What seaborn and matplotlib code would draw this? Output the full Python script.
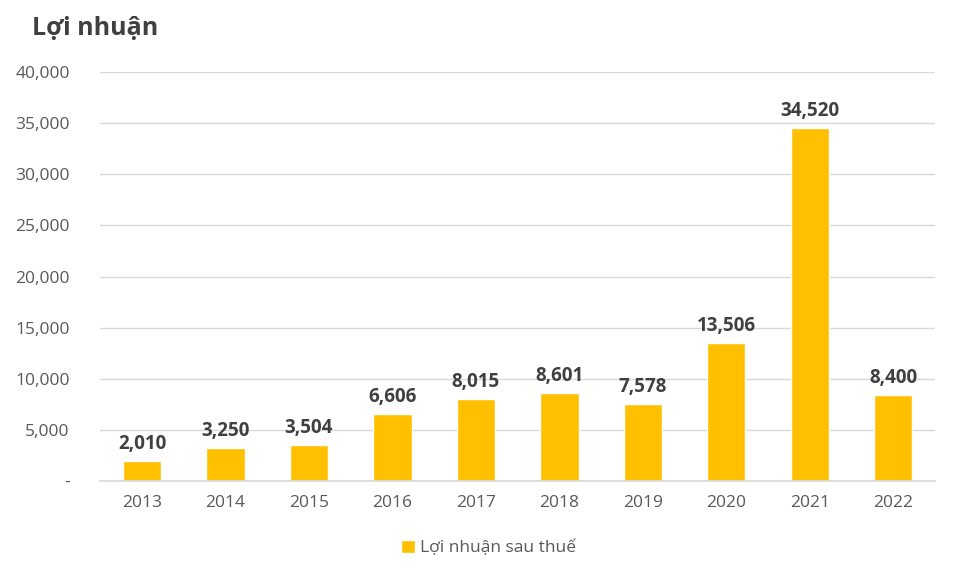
import matplotlib
matplotlib.use("Agg")
import matplotlib.pyplot as plt
import seaborn as sns
import pandas as pd
from matplotlib.ticker import FuncFormatter

years = ["2013", "2014", "2015", "2016", "2017", "2018", "2019", "2020", "2021", "2022"]
profit = [2010, 3250, 3504, 6606, 8015, 8601, 7578, 13506, 34520, 8400]
series_name = "Lợi nhuận sau thuế"
title = "Lợi nhuận"

sns.set_theme(style="white")
plt.rcParams["font.family"] = ["Open Sans", "DejaVu Sans"]

df = pd.DataFrame({"year": years, "profit": profit, "series": series_name})

fig = plt.figure(figsize=(9.55, 5.72), dpi=100)
ax = fig.add_axes([0.105, 0.159, 0.874, 0.715])

sns.barplot(data=df, x="year", y="profit", hue="series", palette=["#FFC000"],
            width=0.46, ax=ax, saturation=1)

ax.set_ylim(0, 40000)
ax.set_yticks(range(0, 40001, 5000))
ax.yaxis.set_major_formatter(FuncFormatter(lambda v, p: "-" if v == 0 else f"{int(v):,}"))
ax.grid(axis="y", color="#D9D9D9", linewidth=1)
ax.set_axisbelow(True)
for s in ["top", "right", "left"]:
    ax.spines[s].set_visible(False)
ax.spines["bottom"].set_color("#D9D9D9")
ax.tick_params(axis="both", length=0, labelsize=12.5, labelcolor="#595959")
ax.tick_params(axis="y", pad=22)
ax.tick_params(axis="x", pad=10)
ax.set_xlabel("")
ax.set_ylabel("")

for c in ax.containers:
    ax.bar_label(c, labels=[f"{v:,}" for v in profit], padding=5,
                 fontsize=13.5, fontweight="bold", color="#404040")

ax.legend(loc="upper center", bbox_to_anchor=(0.465, -0.105), frameon=False,
          fontsize=12.5, labelcolor="#595959", handlelength=0.8, handleheight=0.8,
          handletextpad=0.3)

fig.text(0.034, 0.95, title, fontsize=18, fontweight="bold", color="#404040",
         va="center", ha="left")

fig.savefig("out.png", dpi=100)
